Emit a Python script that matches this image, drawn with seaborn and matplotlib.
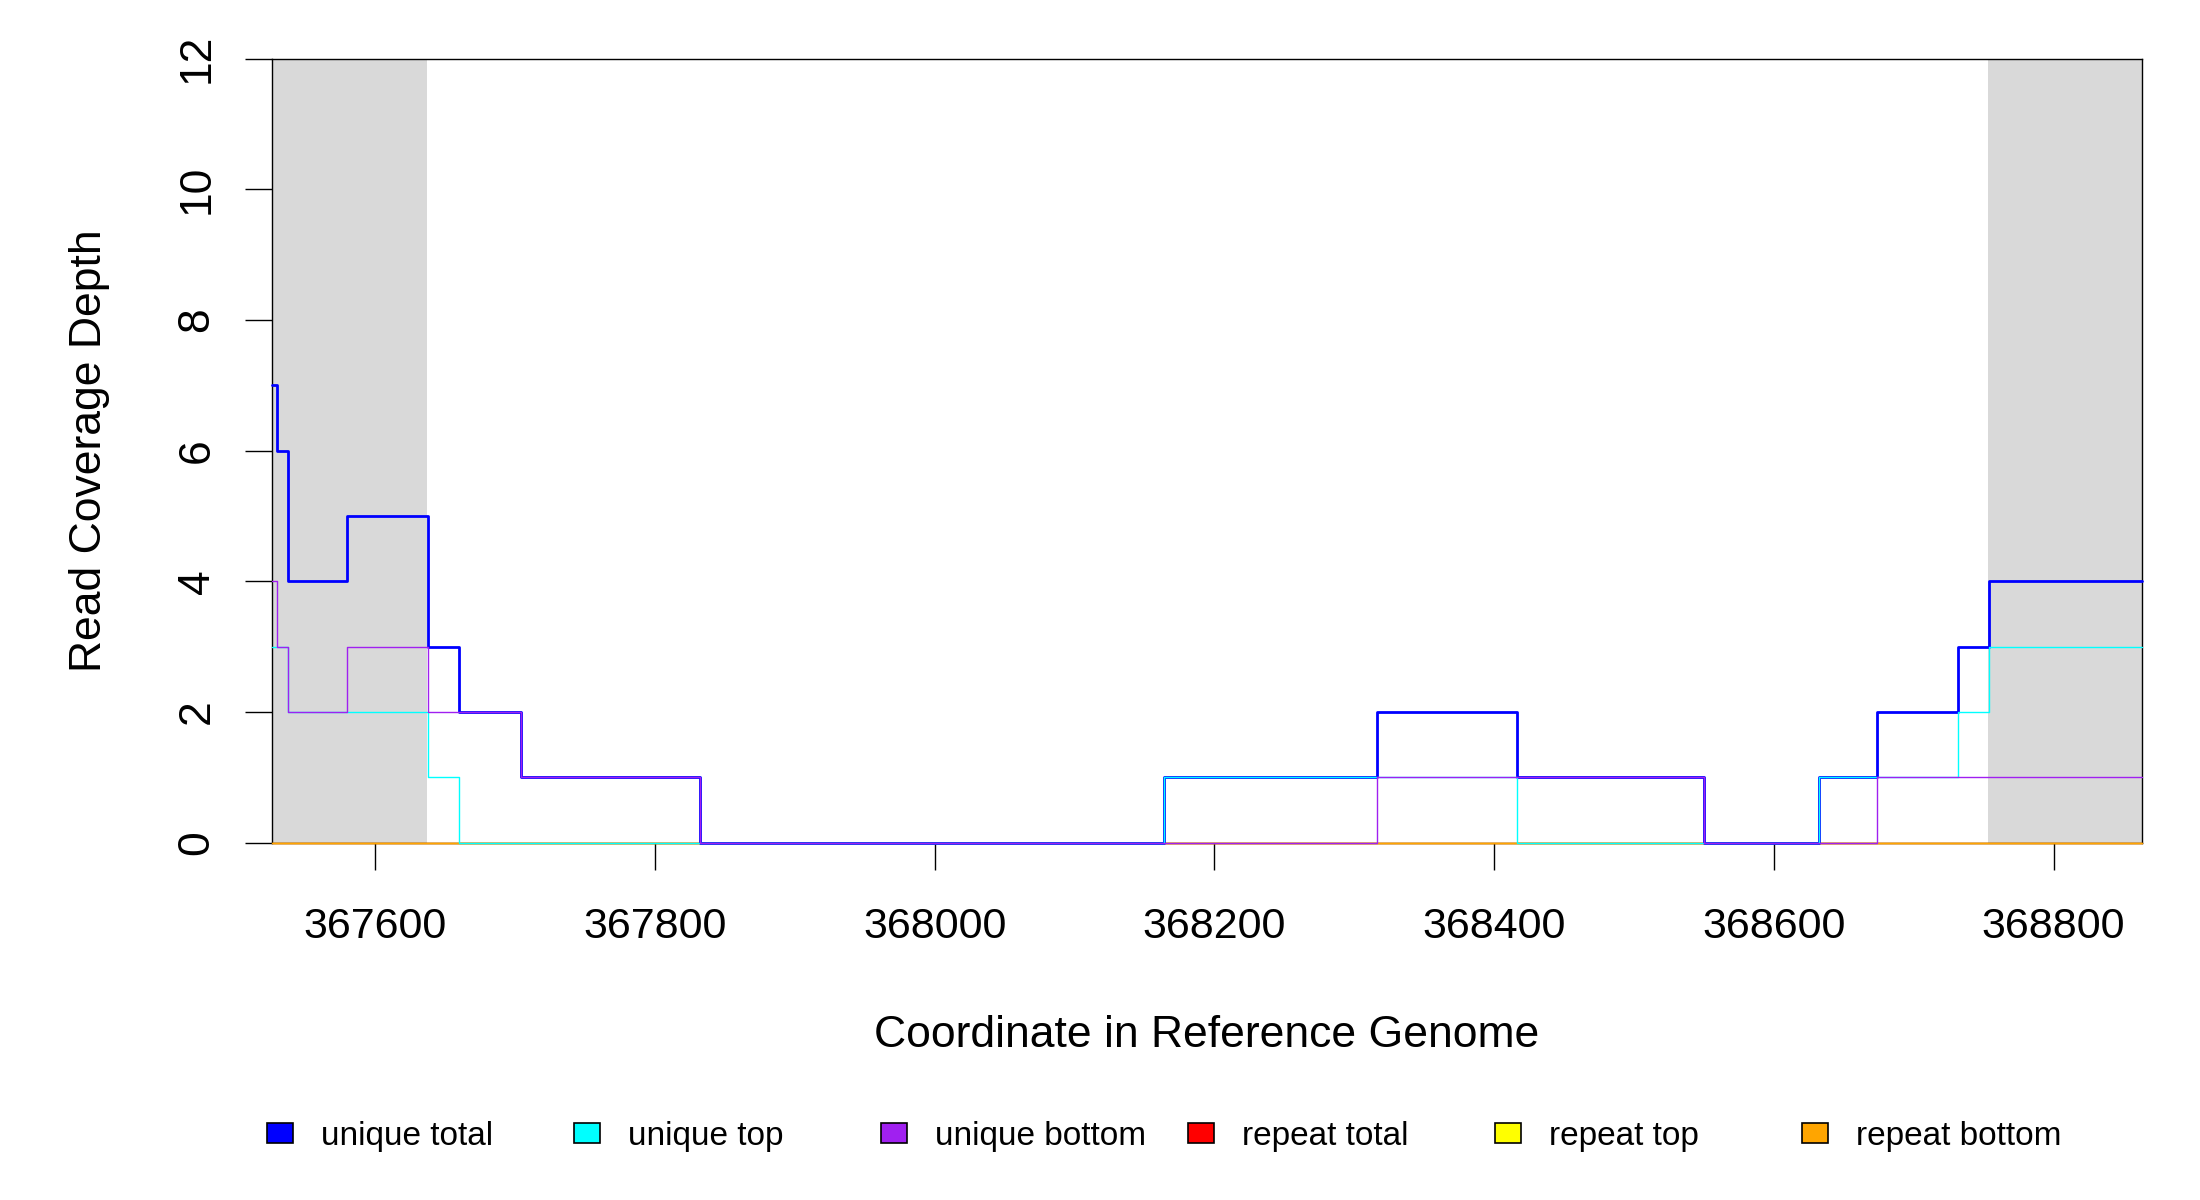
import matplotlib
matplotlib.use("Agg")
import matplotlib.pyplot as plt
from matplotlib.patches import Rectangle
import pandas as pd
import seaborn as sns

# ---------------- data ----------------
breaks = [367526, 367530, 367538, 367580, 367638, 367660, 367704, 367832,
          368164, 368316, 368416, 368550, 368632, 368674, 368732, 368754, 368863]
unique_total = [7, 6, 4, 5, 3, 2, 1, 0, 1, 2, 1, 0, 1, 2, 3, 4]
unique_top = [3, 3, 2, 2, 1, 0, 0, 0, 1, 1, 0, 0, 1, 1, 2, 3]
unique_bottom = [4, 3, 2, 3, 2, 2, 1, 0, 0, 1, 1, 0, 0, 1, 1, 1]
repeat_total = [0, 0, 0, 0, 0, 0, 0, 0, 0, 0, 0, 0, 0, 0, 0, 0]
repeat_top = [0, 0, 0, 0, 0, 0, 0, 0, 0, 0, 0, 0, 0, 0, 0, 0]
repeat_bottom = [0, 0, 0, 0, 0, 0, 0, 0, 0, 0, 0, 0, 0, 0, 0, 0]

shade_start = [367526, 368753]
shade_end = [367637, 368863]

x_ticks = [367600, 367800, 368000, 368200, 368400, 368600, 368800]
y_ticks = [0, 2, 4, 6, 8, 10, 12]

legend_labels = ["unique total", "unique top", "unique bottom",
                 "repeat total", "repeat top", "repeat bottom"]
legend_colors = ["#0000ff", "#00ffff", "#a020f0", "#ff0000", "#ffff00", "#ffa500"]

x_label = "Coordinate in Reference Genome"
y_label = "Read Coverage Depth"

# ---------------- styling ----------------
sns.set_theme(style="white")
plt.rcParams["font.family"] = ["Liberation Sans", "DejaVu Sans"]

W, H = 2200, 1200
fig = plt.figure(figsize=(22, 12), dpi=100)
fig.patch.set_facecolor("white")
ax_l, ax_r, ax_t, ax_b = 271.7, 2141.7, 58.7, 842.7
ax = fig.add_axes([ax_l / W, 1 - ax_b / H, (ax_r - ax_l) / W, (ax_b - ax_t) / H])
ax.set_facecolor("white")

# grey flank regions
for s, e in zip(shade_start, shade_end):
    ax.axvspan(s, e, color="#d9d9d9", lw=0, zorder=0)

# long-form data for the step lines
series = {
    "repeat total": repeat_total,
    "repeat top": repeat_top,
    "repeat bottom": repeat_bottom,
    "unique total": unique_total,
    "unique top": unique_top,
    "unique bottom": unique_bottom,
}
rows = []
for name, vals in series.items():
    ys = list(vals) + [vals[-1]]
    for xv, yv in zip(breaks, ys):
        rows.append({"series": name, "x": xv, "y": yv})
df = pd.DataFrame(rows)

color_of = dict(zip(legend_labels, legend_colors))
width_of = {"unique total": 2.0}
for i, name in enumerate(series.keys()):
    sub = df[df["series"] == name]
    sns.lineplot(data=sub, x="x", y="y", ax=ax, color=color_of[name],
                 lw=width_of.get(name, 1.0), drawstyle="steps-post",
                 estimator=None, sort=False, legend=False,
                 clip_on=False, zorder=3 + i)

ax.set_xlim(breaks[0], breaks[-1])
ax.set_ylim(0, 12)
ax.set_xticks(x_ticks)
ax.set_xticklabels([str(v) for v in x_ticks])
ax.set_yticks(y_ticks)
ax.set_yticklabels([str(v) for v in y_ticks])

for sp in ax.spines.values():
    sp.set_visible(True)
    sp.set_color("black")
    sp.set_linewidth(1.0)

ax.tick_params(axis="x", direction="out", length=19.5, width=1.0, color="black",
               pad=26.5, labelsize=31, labelcolor="black", bottom=True)
ax.tick_params(axis="y", direction="out", length=19.5, width=1.0, color="black",
               pad=19.5, labelsize=32, labelcolor="black", left=True,
               labelrotation=90)
for t in ax.get_yticklabels():
    t.set_va("center")

ax.set_xlabel(x_label, fontsize=32, color="black")
ax.xaxis.label.set_va("baseline")
ax.xaxis.set_label_coords(0.5, ((H - 1046.7) - (H - ax_b)) / (ax_b - ax_t))
ax.set_ylabel(y_label, fontsize=32, color="black")
ax.yaxis.set_label_coords((110 - ax_l) / (ax_r - ax_l), 0.5)
ax.grid(False)

# legend row (manual, equally spaced like the reference)
for i, (lab, col) in enumerate(zip(legend_labels, legend_colors)):
    bx = 267 + i * 307
    fig.add_artist(Rectangle((bx / W, 1 - 1143.3 / H), 26 / W, 20.6 / H,
                             transform=fig.transFigure, facecolor=col,
                             edgecolor="black", lw=1.2))
    fig.text((bx + 54) / W, 1 - 1145 / H, lab, fontsize=24,
             ha="left", va="baseline", color="black")

fig.savefig("out.png", dpi=100, facecolor="white")
